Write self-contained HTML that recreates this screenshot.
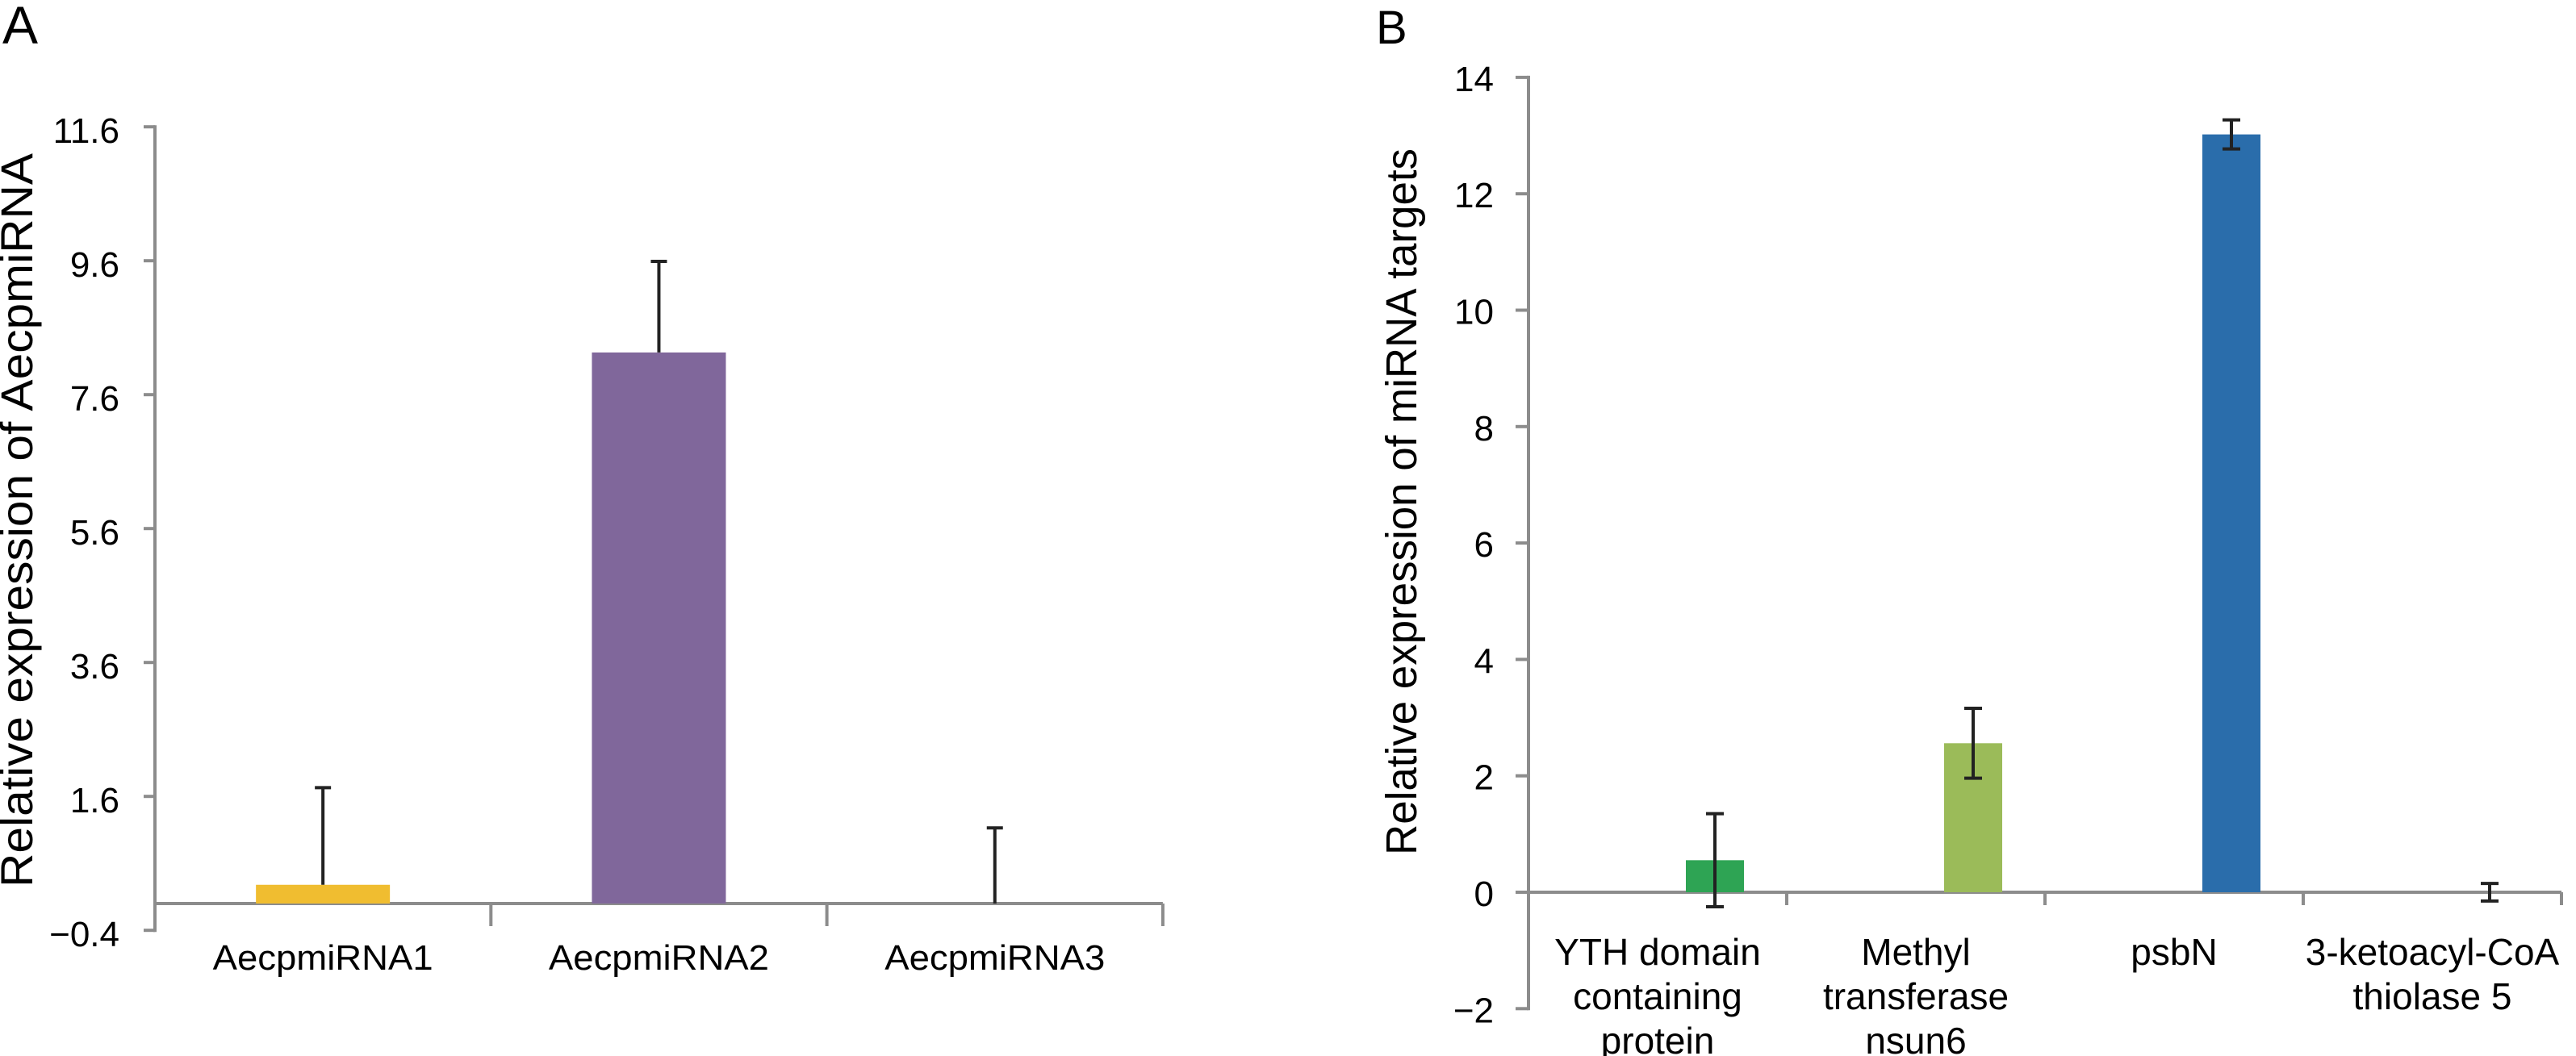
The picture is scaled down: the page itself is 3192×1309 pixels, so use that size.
<!DOCTYPE html>
<html><head><meta charset="utf-8"><style>
html,body{margin:0;padding:0;background:#fff;}
svg{display:block;font-family:"Liberation Sans",Arial,sans-serif;}
</style></head><body>
<svg id="chart" width="3192" height="1309" viewBox="0 0 3192 1309"></svg>
<script>
// Panel A data
const catsA = ["AecpmiRNA1","AecpmiRNA2","AecpmiRNA3"];
const valsA = [0.28, 8.23, 0];
const errA = [1.45, 1.36, 1.13];
const ticksA = [-0.4, 1.6, 3.6, 5.6, 7.6, 9.6, 11.6];
const colorsA = ["#f0bd30","#80679b","#80679b"];
// Panel B data
const catsB = [["YTH domain","containing","protein"],["Methyl","transferase","nsun6"],["psbN"],["3-ketoacyl-CoA","thiolase 5"]];
const valsB = [0.55, 2.56, 13.02, 0];
const errB = [0.8, 0.6, 0.25, 0.15];
const ticksB = [-2, 0, 2, 4, 6, 8, 10, 12, 14];
const colorsB = ["#2ea454","#9bbb59","#2a6dab","#2a6dab"];

const svg = document.getElementById('chart');
const NS = "http://www.w3.org/2000/svg";
function mk(tag, attrs, parent){
  const e = document.createElementNS(NS, tag);
  for (const k in attrs) e.setAttribute(k, attrs[k]);
  (parent||svg).appendChild(e);
  return e;
}
const AX = "#8c8c8c";

// ---------- Panel A ----------
const gA = mk('g', {});


const yA = v => 1120 - (v) * 83;
const xA0 = 192, cwA = 416.3;
const xA = i => xA0 + cwA * (i + 0.5);

let t = mk('text', {x:3, y:54, 'font-size':66}, gA); t.textContent = "A";



let yt = mk('text', {x:0, y:0, 'font-size':56, 'text-anchor':'middle', transform:'translate(40,645) rotate(-90)', textLength:910, lengthAdjust:'spacingAndGlyphs'}, gA);
yt.textContent = "Relative expression of AecpmiRNA";



let ax = mk('line', {x1:xA0, y1:yA(11.6)-2, x2:xA0, y2:yA(-0.4)+2, stroke:AX, 'stroke-width':4}, gA);


ticksA.forEach(v => {
  const tk = mk('line', {x1:xA0-14, y1:yA(v), x2:xA0, y2:yA(v), stroke:AX, 'stroke-width':4}, gA);
  
  
  const lb = mk('text', {x:148, y:yA(v)+20, 'font-size':44, 'text-anchor':'end'}, gA);
  lb.textContent = v.toFixed(1).replace('-', '\u2212');
  
  
});
let xa = mk('line', {x1:xA0, y1:yA(0), x2:xA0+cwA*3, y2:yA(0), stroke:AX, 'stroke-width':4}, gA);


for (let i=1;i<=3;i++){
  const tk = mk('line', {x1:xA0+cwA*i, y1:yA(0), x2:xA0+cwA*i, y2:yA(0)+28, stroke:AX, 'stroke-width':4}, gA);
  
  
}
catsA.forEach((c,i) => {
  const bw = 166;
  if (valsA[i] > 0){
    const b = mk('rect', {x:xA(i)-bw/2, y:yA(valsA[i]), width:bw, height:yA(0)-yA(valsA[i]), fill:colorsA[i]}, gA);
    
    
  }
  const top = yA(valsA[i] + errA[i]);
  const e = mk('path', {d:`M${xA(i)} ${yA(valsA[i])} V${top} M${xA(i)-10} ${top} H${xA(i)+10}`, stroke:'#222', 'stroke-width':4, fill:'none'}, gA);
  
  
  const lb = mk('text', {x:xA(i), y:1202, 'font-size':44, 'text-anchor':'middle', textLength:273, lengthAdjust:'spacingAndGlyphs'}, gA);
  lb.textContent = c;
  
  
});

// ---------- Panel B ----------
const gB = mk('g', {});


const yB = v => 1106 - v * 72.15;
const xB0 = 1894, cwB = 320;
const xB = i => xB0 + cwB * (i + 0.5);

t = mk('text', {x:1705, y:54, 'font-size':58}, gB); t.textContent = "B";



yt = mk('text', {x:0, y:0, 'font-size':54, 'text-anchor':'middle', transform:'translate(1755,622) rotate(-90)', textLength:876, lengthAdjust:'spacingAndGlyphs'}, gB);
yt.textContent = "Relative expression of miRNA targets";



ax = mk('line', {x1:xB0, y1:yB(14)-2, x2:xB0, y2:yB(-2)+2, stroke:AX, 'stroke-width':4}, gB);


ticksB.forEach(v => {
  const tk = mk('line', {x1:xB0-16, y1:yB(v), x2:xB0, y2:yB(v), stroke:AX, 'stroke-width':4}, gB);
  
  
  const lb = mk('text', {x:1851, y:yB(v)+17, 'font-size':44, 'text-anchor':'end'}, gB);
  lb.textContent = String(v).replace('-', '\u2212');
  
  
});
xa = mk('line', {x1:xB0, y1:yB(0), x2:xB0+cwB*4, y2:yB(0), stroke:AX, 'stroke-width':4}, gB);


for (let i=1;i<=4;i++){
  const tk = mk('line', {x1:xB0+cwB*i, y1:yB(0), x2:xB0+cwB*i, y2:yB(0)+16, stroke:AX, 'stroke-width':4}, gB);
  
  
}
catsB.forEach((lines,i) => {
  const bw = 72, cx = xB(i) + 71;
  if (valsB[i] > 0){
    const b = mk('rect', {x:cx-bw/2, y:yB(valsB[i]), width:bw, height:yB(0)-yB(valsB[i]), fill:colorsB[i]}, gB);
    
    
  }
  const top = yB(valsB[i] + errB[i]), bot = yB(valsB[i] - errB[i]);
  const e = mk('path', {d:`M${cx} ${bot} V${top} M${cx-11} ${top} H${cx+11} M${cx-11} ${bot} H${cx+11}`, stroke:'#222', 'stroke-width':4, fill:'none'}, gB);
  
  
  lines.forEach((ln, j) => {
    const lb = mk('text', {x:xB(i), y:1196 + j*55, 'font-size':46, 'text-anchor':'middle'}, gB);
    lb.textContent = ln;
    
    
  });
});
</script>
</body></html>
